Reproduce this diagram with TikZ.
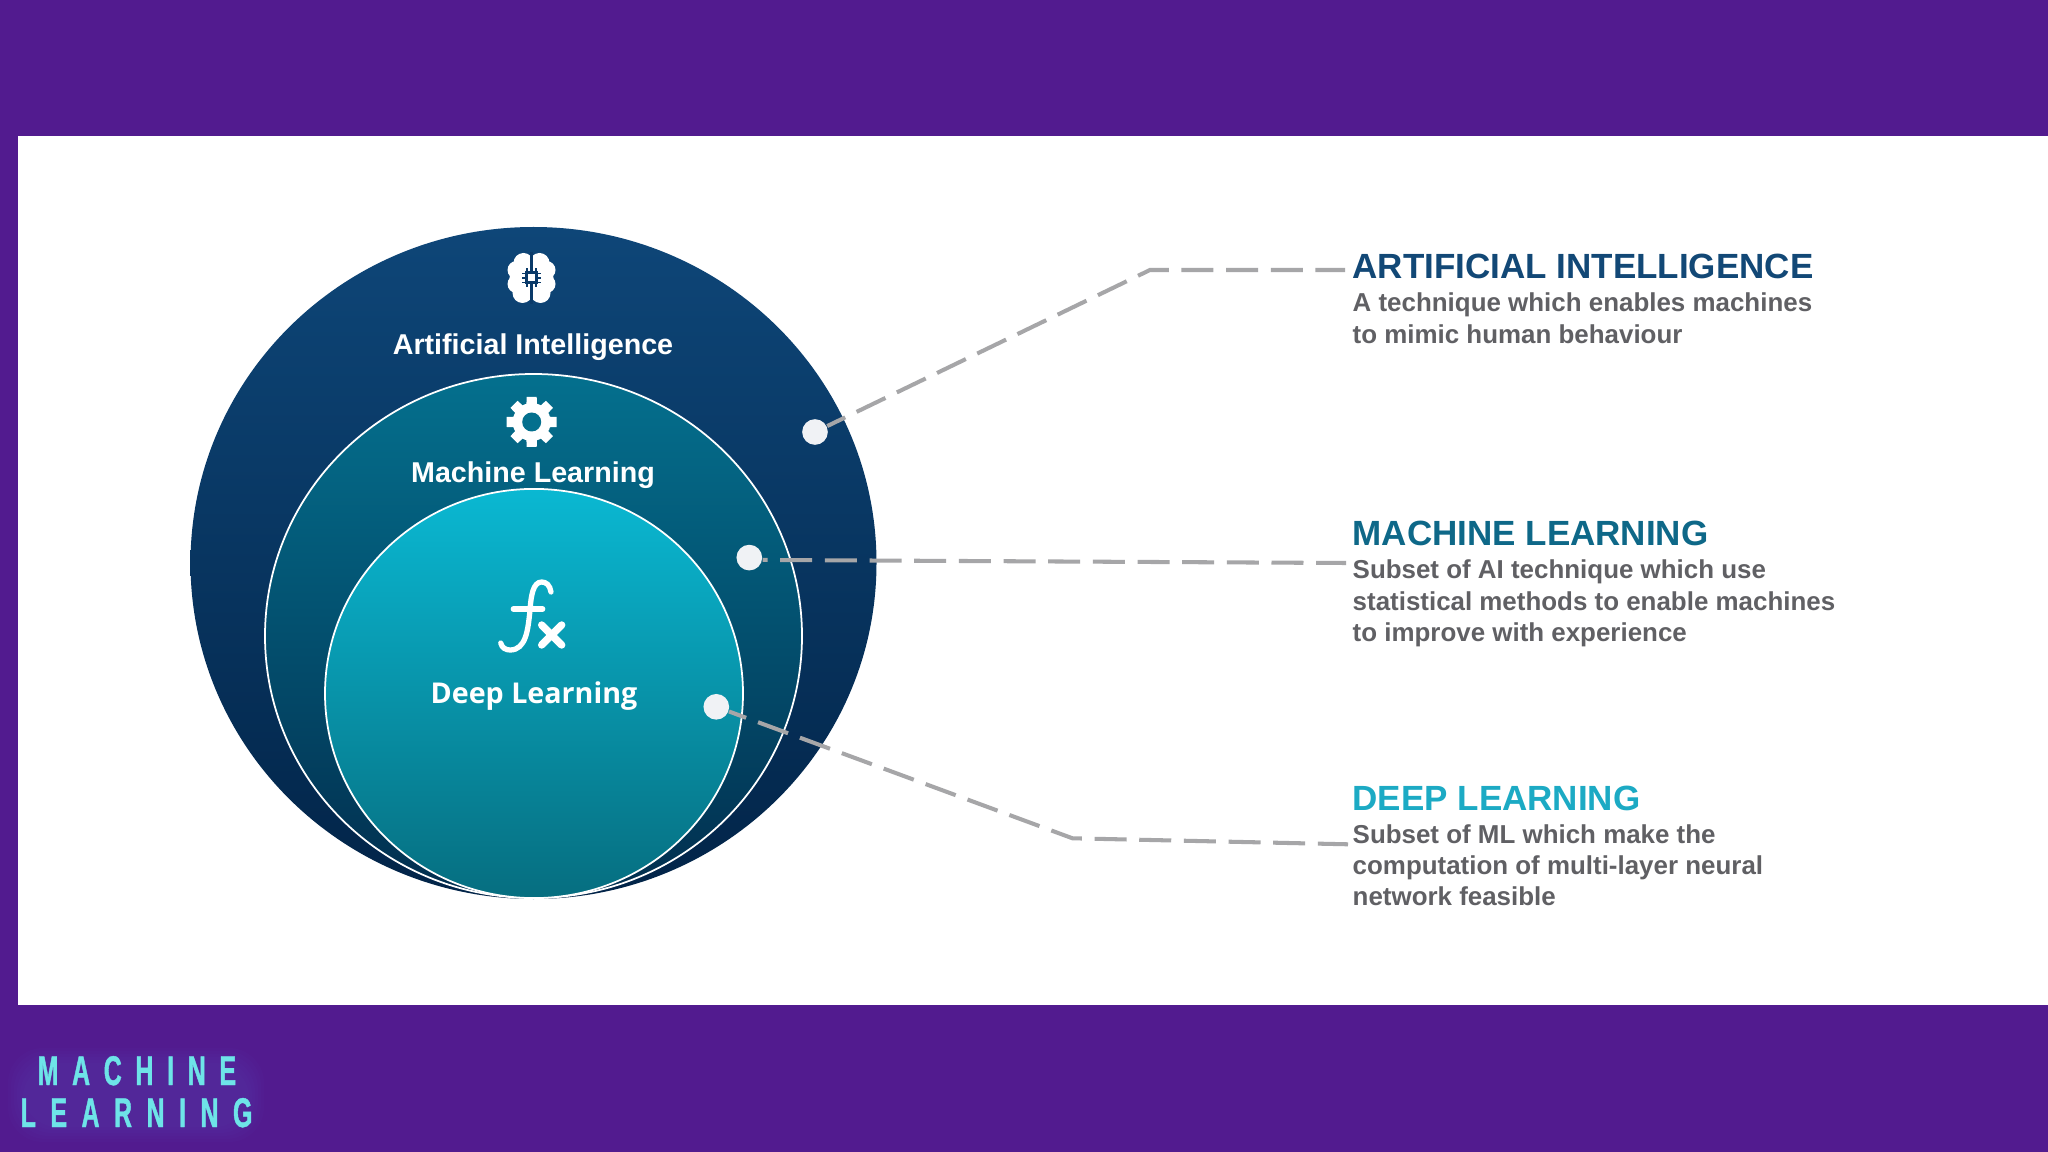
\documentclass[tikz,border=0pt]{standalone}
\usepackage{fontspec}
\setmainfont{Liberation Sans}
\newfontfamily\dlfont{Open Sans}
\usepackage{tikz}
\definecolor{figpurple}{RGB}{82,27,143}
\definecolor{figglow}{RGB}{100,80,190}
\definecolor{figai}{RGB}{14,70,120}
\definecolor{figaim}{RGB}{10,58,105}
\definecolor{figaib}{RGB}{2,36,72}
\definecolor{figml}{RGB}{4,112,142}
\definecolor{figmlm}{RGB}{2,88,118}
\definecolor{figmlb}{RGB}{2,46,78}
\definecolor{figdl}{RGB}{10,184,210}
\definecolor{figdlm}{RGB}{8,150,176}
\definecolor{figdlb}{RGB}{6,110,128}
\definecolor{figdash}{RGB}{166,166,168}
\definecolor{figtext}{RGB}{96,96,100}
\definecolor{figheadai}{RGB}{18,72,118}
\definecolor{figheadml}{RGB}{14,104,136}
\definecolor{figheaddl}{RGB}{28,170,196}
\definecolor{figlogo}{RGB}{110,228,232}
\definecolor{figdot}{RGB}{240,242,245}
\tikzset{
  ring/.style   ={draw=white, line width=0.5pt},
  dotm/.style   ={circle, fill=figdot, minimum size=7.3pt, inner sep=0pt},
  lnk/.style    ={draw=figdash, line width=1.15pt, dash pattern=on 9.1pt off 3.6pt},
  lab/.style    ={font=\fontsize{8.15}{9}\selectfont\bfseries, text=white, inner sep=0pt, anchor=base},
  head/.style   ={font=\fontsize{9.95}{11}\selectfont\bfseries, inner sep=0pt, anchor=base west},
  body/.style   ={font=\fontsize{7.37}{8.9}\selectfont\bfseries, text=figtext, inner sep=0pt,
                  anchor=north west, align=left},
  logo/.style   ={font=\fontsize{11.8}{12}\selectfont\bfseries, text=figlogo, inner sep=0pt, anchor=base west},
  icon/.style   ={draw=white, line cap=round, line width=1.5pt},
}
\begin{document}
\begin{tikzpicture}[x=0.01cm,y=-0.01cm]
  \useasboundingbox (0,0) rectangle (2048,1152);
  \fill[figpurple] (0,0) rectangle (2048,1152);
  \fill[white] (17.5,136) rectangle (2048,1005);
  % circles
  \shade[top color=figai, middle color=figaim, bottom color=figaib] (533.5,563) ellipse [x radius=343, y radius=336];
  \shade[ring, top color=figml, middle color=figmlm, bottom color=figmlb] (533.5,636) ellipse [x radius=268.5, y radius=262];
  \shade[ring, top color=figdl, middle color=figdlm, bottom color=figdlb] (534,693.5) ellipse [x radius=209, y radius=204.6];
  % brain
  \begin{scope}[shift={(531.5,278)}]
  \foreach \sx in {-1,1} {
    \fill[white] (\sx*8,-15) circle [radius=10];
    \fill[white] (\sx*15,-8) circle [radius=9];
    \fill[white] (\sx*15,6) circle [radius=9];
    \fill[white] (\sx*9,15) circle [radius=10];
    \fill[white] (\sx*10,0) circle [radius=12];
  }
  \draw[figaim, line width=0.7pt] (0,-26) -- (0,26);
  \fill[figaim] (-6.5,-6.5) rectangle (6.5,6.5);
  \foreach \py in {-4.5,0,4.5}
    \draw[figaim, line width=0.5pt] (-9.5,\py) -- (9.5,\py);
  \foreach \px in {-4.5,0,4.5}
    \draw[figaim, line width=0.5pt] (\px,-9.5) -- (\px,9.5);
  \fill[white] (-3.5,-3.5) rectangle (3.5,3.5);
  \end{scope}
  % gear
  \begin{scope}[shift={(531.7,422)}]
  \foreach \ang in {0,45,...,315}
    \fill[white, rotate=\ang] (-6,0) -- (-5,-25) -- (5,-25) -- (6,0) -- cycle;
  \fill[white] (0,0) circle [radius=19];
  \fill[figml] (0,0) circle [radius=9.5];
  \end{scope}
  % fx
  \draw[icon] (551,592) .. controls (550,585) and (546,582) .. (541.7,582)
    .. controls (533,582) and (531,596) .. (530,610)
    .. controls (528,630) and (526,650) .. (510,650)
    .. controls (506,650) and (502,648) .. (500.7,643);
  \draw[icon] (513.3,609) -- (542.7,609);
  \draw[icon, line width=2.1pt] (541.7,625) -- (561.7,645);
  \draw[icon, line width=2.1pt] (561.7,625) -- (541.7,645);
  \node[lab] (ailab) at (533,355) {Artificial Intelligence};
  \node[lab] (mllab) at (533,482) {Machine Learning};
  \node[lab, font=\fontsize{8.15}{9}\dlfont\selectfont\bfseries] (dllab) at (534,703) {Deep Learning};
  % right column
  \node[head, text=figheadai] (aihead) at (1352,279) {ARTIFICIAL INTELLIGENCE};
  \node[head, text=figheadml] (mlhead) at (1352,546) {MACHINE LEARNING};
  \node[head, text=figheaddl] (dlhead) at (1352,810) {DEEP LEARNING};
  \node[body] (aibody) at (1352,292.5) {A technique which enables machines\\to mimic human behaviour};
  \node[body] (mlbody) at (1352,559.3) {Subset of AI technique which use\\statistical methods to enable machines\\to improve with experience};
  \node[body] (dlbody) at (1352,823.7) {Subset of ML which make the\\computation of multi-layer neural\\network feasible};
  % connectors
  \node[dotm] (aidot) at (815,432) {};
  \node[dotm] (mldot) at (749.3,557.6) {};
  \node[dotm] (dldot) at (716.3,706.8) {};
  \coordinate (aibend) at (1150,270);
  \coordinate (aiend) at (1345,270);
  \coordinate (mlend) at (1346,563);
  \coordinate (dlbend) at (1072.5,838.3);
  \coordinate (dlend) at (1348,844.3);
  \draw[lnk, dash phase=3.4pt] (aidot) -- (aibend) -- (aiend);
  \draw[lnk, dash phase=7.7pt] (mldot.350) -- (mlend);
  \draw[lnk, dash phase=3.9pt] (dldot) -- (dlbend) -- (dlend);
  % logo
  \foreach \grow in {1,...,6}
    \fill[figglow, opacity=0.05, rounded corners=10pt] ({26-\grow*3},{1066-\grow*3}) rectangle ({246+\grow*3},{1124+\grow*3});
  \node[logo] (logoa) at (37,1085) {\addfontfeature{FakeStretch=0.6,LetterSpace=33,FakeBold=1}MACHINE};
  \node[logo] (logob) at (20,1127) {\addfontfeature{FakeStretch=0.6,LetterSpace=35,FakeBold=1}LEARNING};
\end{tikzpicture}
\end{document}
